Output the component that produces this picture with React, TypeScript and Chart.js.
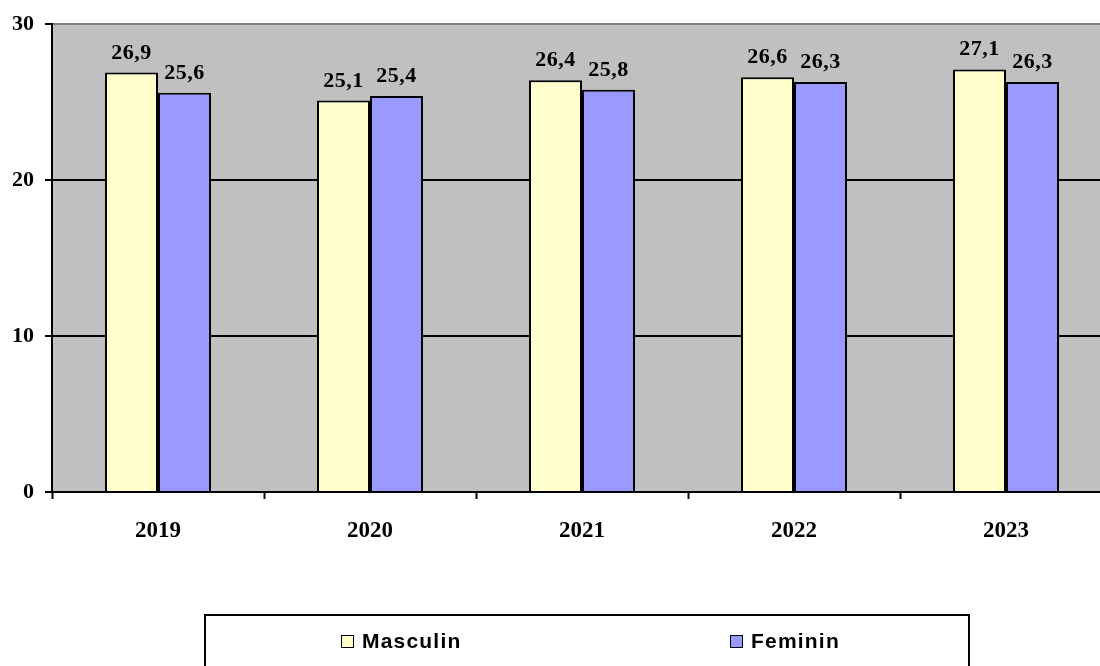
import React, { useEffect, useRef } from "react";
import { Chart, registerables } from "chart.js";

Chart.register(...registerables);

const years = ["2019", "2020", "2021", "2022", "2023"];
const masculin = [26.9, 25.1, 26.4, 26.6, 27.1];
const feminin = [25.6, 25.4, 25.8, 26.3, 26.3];
const seriesNames = ["Masculin", "Feminin"];
const seriesColors = ["#FFFFCC", "#9999FF"];
const yTicks = [0, 10, 20, 30];

const SERIF = "'Liberation Serif', 'Times New Roman', serif";
const SANS = "'Liberation Sans', Arial, sans-serif";

const plotBg = {
  id: "plotBg",
  beforeDraw(chart: any) {
    const { ctx, chartArea } = chart;
    ctx.save();
    ctx.fillStyle = "#C0C0C0";
    ctx.fillRect(chartArea.left, chartArea.top, chartArea.right - chartArea.left, chartArea.bottom - chartArea.top);
    ctx.restore();
  },
};

const dataLabels = {
  id: "dataLabels",
  afterDatasetsDraw(chart: any) {
    const { ctx } = chart;
    ctx.save();
    ctx.font = `bold 22px ${SERIF}`;
    (ctx as any).letterSpacing = "0.5px";
    ctx.fillStyle = "#000";
    ctx.textAlign = "center";
    ctx.textBaseline = "alphabetic";
    chart.data.datasets.forEach((ds: any, i: number) => {
      const meta = chart.getDatasetMeta(i);
      meta.data.forEach((bar: any, j: number) => {
        const v = ds.data[j] as number;
        const txt = v.toFixed(1).replace(".", ",");
        ctx.fillText(txt, bar.x, bar.y - 14);
      });
    });
    ctx.restore();
  },
};

const boxLegend = {
  id: "boxLegend",
  afterDraw(chart: any) {
    const { ctx } = chart;
    ctx.save();
    ctx.strokeStyle = "#000";
    ctx.lineWidth = 2;
    ctx.strokeRect(205, 615, 764, 80);
    ctx.font = `bold 21px ${SANS}`;
    (ctx as any).letterSpacing = "1.2px";
    ctx.textBaseline = "middle";
    ctx.textAlign = "left";
    chart.data.datasets.forEach((ds: any, i: number) => {
      const x = 341 + i * 389;
      const y = 635;
      ctx.fillStyle = ds.backgroundColor;
      ctx.fillRect(x, y, 12, 12);
      ctx.lineWidth = 1;
      ctx.strokeStyle = "#000";
      ctx.strokeRect(x + 0.5, y + 0.5, 12, 12);
      ctx.fillStyle = "#000";
      ctx.fillText(ds.label, x + 21, y + 7);
    });
    ctx.restore();
  },
};

export default function App() {
  const ref = useRef<HTMLCanvasElement | null>(null);
  useEffect(() => {
    if (!ref.current) return;
    const chart = new Chart(ref.current, {
      type: "bar",
      data: {
        labels: years,
        datasets: [
          {
            label: seriesNames[0],
            data: masculin,
            backgroundColor: seriesColors[0],
            borderColor: "#000",
            borderWidth: 2,
            categoryPercentage: 0.5,
            barPercentage: 1,
          },
          {
            label: seriesNames[1],
            data: feminin,
            backgroundColor: seriesColors[1],
            borderColor: "#000",
            borderWidth: 2,
            categoryPercentage: 0.5,
            barPercentage: 1,
          },
        ],
      },
      options: {
        animation: false,
        responsive: false,
        devicePixelRatio: 1,
        layout: { padding: { top: 24, left: 0, right: 0, bottom: 0 } },
        plugins: { legend: { display: false }, tooltip: { enabled: false } },
        scales: {
          x: {
            offset: true,
            grid: {
              offset: true,
              drawOnChartArea: false,
              drawTicks: true,
              tickLength: 7,
              tickColor: "#000",
              tickWidth: 2,
            },
            border: { color: "#000", width: 2 },
            ticks: {
              color: "#000",
              font: { family: SERIF, size: 23, weight: "bold" },
              padding: 18,
            },
            afterFit(scale: any) {
              scale.height = 174;
            },
          },
          y: {
            min: 0,
            max: 30,
            afterBuildTicks(scale: any) {
              scale.ticks = yTicks.map((v) => ({ value: v }));
            },
            grid: {
              color: (c: any) => (c.tick && c.tick.value === 30 ? "#808080" : "#000"),
              lineWidth: 2,
              tickLength: 7,
              tickColor: "#000",
              tickWidth: 2,
            },
            border: { color: "#000", width: 2 },
            ticks: {
              color: "#000",
              font: { family: SERIF, size: 22, weight: "bold" },
              padding: 11,
            },
            afterFit(scale: any) {
              scale.width = 52;
            },
          },
        },
      },
      plugins: [plotBg, dataLabels, boxLegend],
    });
    return () => chart.destroy();
  }, []);
  return (
    <div style={{ position: "fixed", left: 0, top: 0, width: 1100, height: 666, overflow: "hidden", background: "#fff" }}>
      <canvas ref={ref} width={1112} height={666} style={{ width: 1112, height: 666, display: "block" }} />
    </div>
  );
}
